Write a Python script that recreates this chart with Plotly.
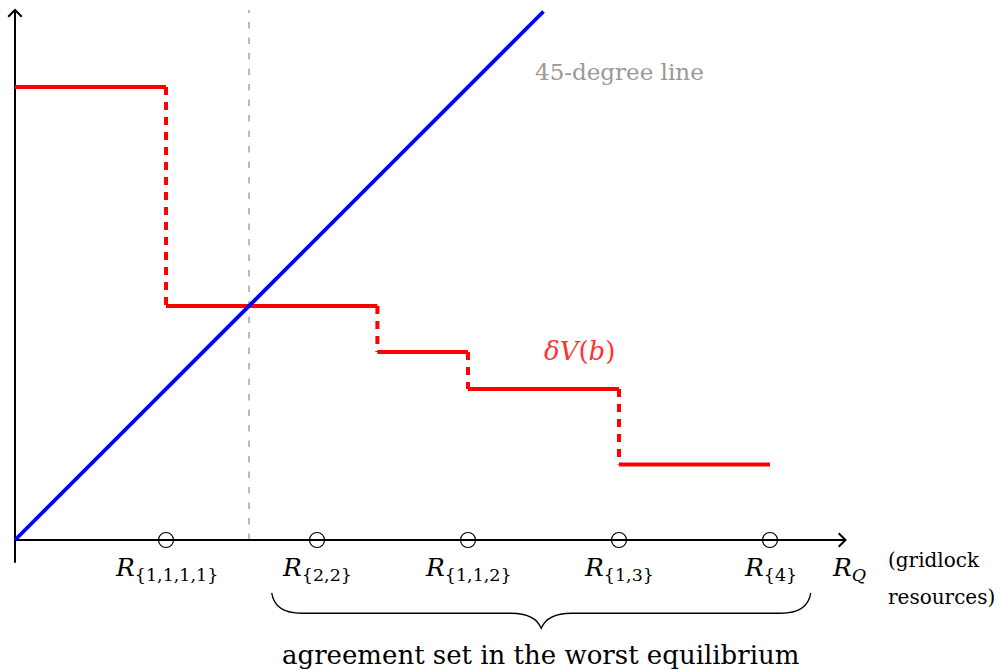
import plotly.graph_objects as go

# ---- data (model units) ----
type_positions = [1, 2, 3, 4, 5]
type_labels = ["{1,1,1,1}", "{2,2}", "{1,1,2}", "{1,3}", "{4}"]
step_x = [0, 1, 2.4, 3, 4, 5]          # breakpoints of deltaV(b)
step_y = [3.0, 1.55, 1.245, 1.0, 0.5]  # levels of deltaV(b)
diag_end = 3.5
fixed_point = 1.55
x_axis_end = 5.5
y_axis_end = 3.51

PX = 151.0  # pixels per unit
X0, Y0 = 15, 540
W, H = 1003, 670

fig = go.Figure()

hx, hy = [], []
for i, lvl in enumerate(step_y):
    hx += [step_x[i], step_x[i + 1], None]
    hy += [lvl, lvl, None]
vx, vy = [], []
for i in range(1, len(step_y)):
    vx += [step_x[i], step_x[i], None]
    vy += [step_y[i - 1], step_y[i], None]

fig.add_trace(go.Scatter(x=[fixed_point, fixed_point], y=[0, y_axis_end], mode="lines",
                         line=dict(color="#8c8c8c", width=1.2, dash="6.5px,9px"), hoverinfo="skip"))
fig.add_trace(go.Scatter(x=[0, x_axis_end], y=[0, 0], mode="lines",
                         line=dict(color="black", width=2), hoverinfo="skip"))
fig.add_trace(go.Scatter(x=[0, 0], y=[-0.15, y_axis_end], mode="lines",
                         line=dict(color="black", width=2), hoverinfo="skip"))
ah = 0.045
fig.add_trace(go.Scatter(x=[x_axis_end - ah, x_axis_end, x_axis_end - ah], y=[ah, 0, -ah], mode="lines",
                         line=dict(color="black", width=2), hoverinfo="skip"))
fig.add_trace(go.Scatter(x=[-ah, 0, ah], y=[y_axis_end - ah, y_axis_end, y_axis_end - ah], mode="lines",
                         line=dict(color="black", width=2), hoverinfo="skip"))

fig.add_trace(go.Scatter(x=vx, y=vy, mode="lines",
                         line=dict(color="#ff0000", width=4, dash="8px,7px"), hoverinfo="skip"))
fig.add_trace(go.Scatter(x=hx, y=hy, mode="lines",
                         line=dict(color="#ff0000", width=4), hoverinfo="skip"))
fig.add_trace(go.Scatter(x=[0, diag_end], y=[0, diag_end], mode="lines",
                         line=dict(color="#0000ff", width=3.8), hoverinfo="skip"))
fig.add_trace(go.Scatter(x=type_positions, y=[0] * len(type_positions), mode="markers",
                         marker=dict(symbol="circle-open", size=15, color="black", line=dict(width=1.2)),
                         hoverinfo="skip"))

FONT = "DejaVu Serif"
ann = []
for p, lab in zip(type_positions, type_labels):
    ann.append(dict(x=p, y=-0.19, text=f"<i>R</i><sub>{lab}</sub>", showarrow=False,
                    font=dict(family=FONT, size=25, color="black"), xanchor="center", yanchor="middle"))
ann.append(dict(x=x_axis_end + 0.02, y=-0.19, text="<i>R</i><sub><i>Q</i></sub>", showarrow=False,
                font=dict(family=FONT, size=25, color="black"), xanchor="center", yanchor="middle"))
ann.append(dict(x=5.77, y=-0.13, text="(gridlock", showarrow=False,
                font=dict(family=FONT, size=20, color="black"), xanchor="left", yanchor="middle"))
ann.append(dict(x=5.77, y=-0.375, text="resources)", showarrow=False,
                font=dict(family=FONT, size=20, color="black"), xanchor="left", yanchor="middle"))
ann.append(dict(x=3.43, y=3.1, text="45-degree line", showarrow=False,
                font=dict(family=FONT, size=23, color="#999999"), xanchor="left", yanchor="middle"))
ann.append(dict(x=3.49, y=1.25, text="<i>δV</i>(<i>b</i>)", showarrow=False,
                font=dict(family=FONT, size=26, color="#ff3333"), xanchor="left", yanchor="middle"))
ann.append(dict(x=3.48, y=-0.76, text="agreement set in the worst equilibrium", showarrow=False,
                font=dict(family=FONT, size=26, color="black"), xanchor="center", yanchor="middle"))

bl, br = type_positions[1] - 0.3, type_positions[-1] + 0.27
mid = (bl + br) / 2
yt, yh, ytip = -0.35, -0.485, -0.585
path = (f"M {bl},{yt} Q {bl+0.02},{yh} {bl+0.2},{yh} L {mid-0.2},{yh} "
        f"Q {mid-0.04},{yh} {mid},{ytip} Q {mid+0.04},{yh} {mid+0.2},{yh} "
        f"L {br-0.2},{yh} Q {br-0.02},{yh} {br},{yt}")
fig.add_shape(type="path", path=path, xref="x", yref="y", line=dict(color="black", width=1.3))

fig.update_layout(
    width=W, height=H, margin=dict(l=0, r=0, t=0, b=0),
    plot_bgcolor="white", paper_bgcolor="white", showlegend=False,
    annotations=ann,
    xaxis=dict(range=[-X0 / PX, (W - X0) / PX], visible=False, fixedrange=True),
    yaxis=dict(range=[(Y0 - H) / PX, Y0 / PX], visible=False, fixedrange=True),
)
fig.write_html("out.html", config={"displayModeBar": False},
               post_script="document.body.style.margin='0';document.body.style.overflow='hidden';")
